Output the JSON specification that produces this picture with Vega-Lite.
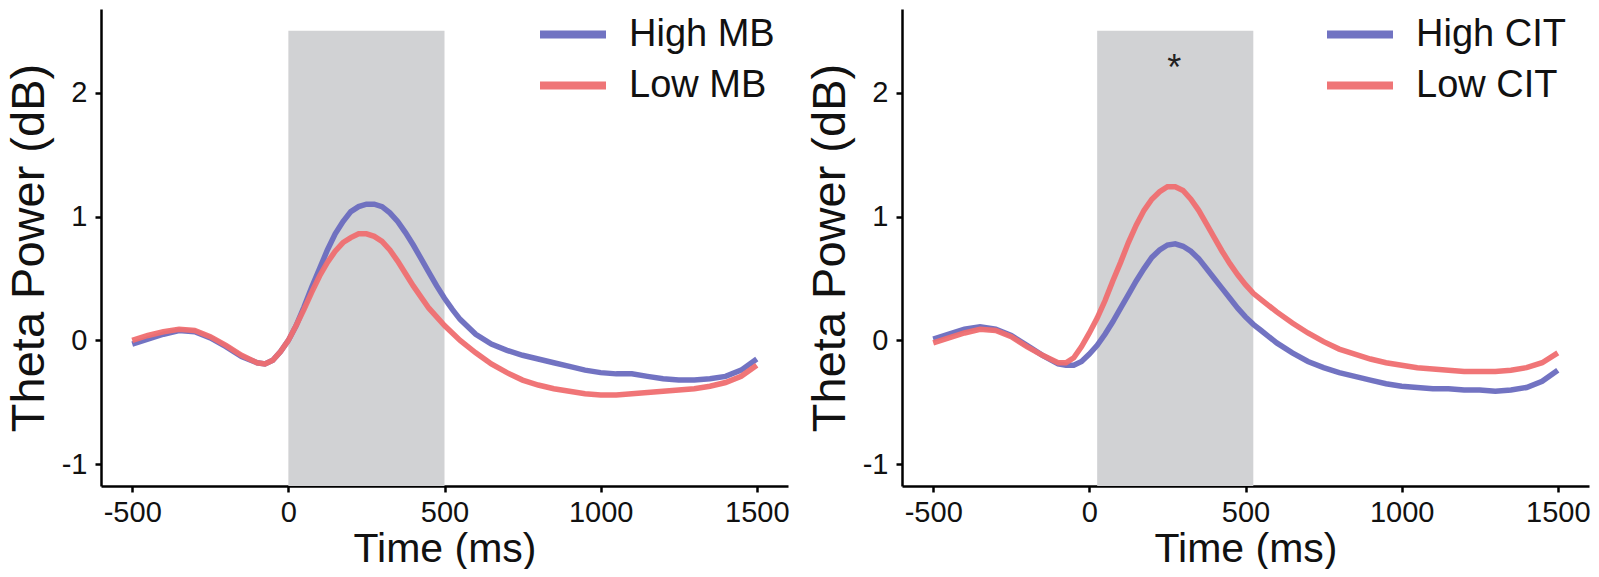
{
  "$schema": "https://vega.github.io/schema/vega-lite/v6.json",
  "background": "white",
  "padding": {"left": 5, "top": 9, "right": 5, "bottom": 0},
  "spacing": 16,
  "config": {
    "view": {"stroke": null},
    "axis": {"grid": false, "domainColor": "black", "domainWidth": 2.5, "tickColor": "black", "tickWidth": 2.5, "tickSize": 6, "labelFont": "Liberation Sans", "labelFontSize": 29, "labelColor": "#111", "labelPadding": 8, "titleFont": "Liberation Sans", "titleFontSize": 47, "titleFontWeight": "normal", "titleColor": "#111", "titlePadding": 8},
    "axisX": {"labelPadding": 6, "titlePadding": 2, "titleFontSize": 41},
    "legend": {"orient": "none", "legendY": 0, "title": null, "symbolType": "stroke", "symbolStrokeWidth": 8, "symbolSize": 4356, "labelFont": "Liberation Sans", "labelFontSize": 38, "labelColor": "#111", "labelOffset": 19, "rowPadding": -2, "clipHeight": 51}
  },
  "datasets": {
    "left": [
      {"t": -500, "v": -0.03, "g": "High MB"}, {"t": -450, "v": 0.01, "g": "High MB"}, {"t": -400, "v": 0.05, "g": "High MB"}, {"t": -350, "v": 0.08, "g": "High MB"}, {"t": -300, "v": 0.07, "g": "High MB"}, {"t": -250, "v": 0.02, "g": "High MB"}, {"t": -200, "v": -0.05, "g": "High MB"}, {"t": -150, "v": -0.13, "g": "High MB"}, {"t": -100, "v": -0.18, "g": "High MB"}, {"t": -75, "v": -0.19, "g": "High MB"}, {"t": -50, "v": -0.16, "g": "High MB"}, {"t": -25, "v": -0.09, "g": "High MB"}, {"t": 0, "v": 0.0, "g": "High MB"}, {"t": 25, "v": 0.12, "g": "High MB"}, {"t": 50, "v": 0.27, "g": "High MB"}, {"t": 75, "v": 0.43, "g": "High MB"}, {"t": 100, "v": 0.58, "g": "High MB"}, {"t": 125, "v": 0.73, "g": "High MB"}, {"t": 150, "v": 0.86, "g": "High MB"}, {"t": 175, "v": 0.96, "g": "High MB"}, {"t": 200, "v": 1.04, "g": "High MB"}, {"t": 225, "v": 1.08, "g": "High MB"}, {"t": 250, "v": 1.1, "g": "High MB"}, {"t": 275, "v": 1.1, "g": "High MB"}, {"t": 300, "v": 1.08, "g": "High MB"}, {"t": 325, "v": 1.03, "g": "High MB"}, {"t": 350, "v": 0.96, "g": "High MB"}, {"t": 375, "v": 0.87, "g": "High MB"}, {"t": 400, "v": 0.77, "g": "High MB"}, {"t": 425, "v": 0.66, "g": "High MB"}, {"t": 450, "v": 0.55, "g": "High MB"}, {"t": 475, "v": 0.44, "g": "High MB"}, {"t": 500, "v": 0.34, "g": "High MB"}, {"t": 525, "v": 0.25, "g": "High MB"}, {"t": 550, "v": 0.17, "g": "High MB"}, {"t": 600, "v": 0.05, "g": "High MB"}, {"t": 650, "v": -0.03, "g": "High MB"}, {"t": 700, "v": -0.08, "g": "High MB"}, {"t": 750, "v": -0.12, "g": "High MB"}, {"t": 800, "v": -0.15, "g": "High MB"}, {"t": 850, "v": -0.18, "g": "High MB"}, {"t": 900, "v": -0.21, "g": "High MB"}, {"t": 950, "v": -0.24, "g": "High MB"}, {"t": 1000, "v": -0.26, "g": "High MB"}, {"t": 1050, "v": -0.27, "g": "High MB"}, {"t": 1100, "v": -0.27, "g": "High MB"}, {"t": 1150, "v": -0.29, "g": "High MB"}, {"t": 1200, "v": -0.31, "g": "High MB"}, {"t": 1250, "v": -0.32, "g": "High MB"}, {"t": 1300, "v": -0.32, "g": "High MB"}, {"t": 1350, "v": -0.31, "g": "High MB"}, {"t": 1400, "v": -0.29, "g": "High MB"}, {"t": 1450, "v": -0.24, "g": "High MB"}, {"t": 1500, "v": -0.15, "g": "High MB"},
      {"t": -500, "v": 0.0, "g": "Low MB"}, {"t": -450, "v": 0.04, "g": "Low MB"}, {"t": -400, "v": 0.07, "g": "Low MB"}, {"t": -350, "v": 0.09, "g": "Low MB"}, {"t": -300, "v": 0.08, "g": "Low MB"}, {"t": -250, "v": 0.03, "g": "Low MB"}, {"t": -200, "v": -0.04, "g": "Low MB"}, {"t": -150, "v": -0.12, "g": "Low MB"}, {"t": -100, "v": -0.18, "g": "Low MB"}, {"t": -75, "v": -0.19, "g": "Low MB"}, {"t": -50, "v": -0.16, "g": "Low MB"}, {"t": -25, "v": -0.09, "g": "Low MB"}, {"t": 0, "v": 0.0, "g": "Low MB"}, {"t": 25, "v": 0.12, "g": "Low MB"}, {"t": 50, "v": 0.25, "g": "Low MB"}, {"t": 75, "v": 0.39, "g": "Low MB"}, {"t": 100, "v": 0.52, "g": "Low MB"}, {"t": 125, "v": 0.63, "g": "Low MB"}, {"t": 150, "v": 0.72, "g": "Low MB"}, {"t": 175, "v": 0.79, "g": "Low MB"}, {"t": 200, "v": 0.83, "g": "Low MB"}, {"t": 225, "v": 0.86, "g": "Low MB"}, {"t": 250, "v": 0.86, "g": "Low MB"}, {"t": 275, "v": 0.84, "g": "Low MB"}, {"t": 300, "v": 0.8, "g": "Low MB"}, {"t": 325, "v": 0.73, "g": "Low MB"}, {"t": 350, "v": 0.64, "g": "Low MB"}, {"t": 375, "v": 0.54, "g": "Low MB"}, {"t": 400, "v": 0.44, "g": "Low MB"}, {"t": 425, "v": 0.35, "g": "Low MB"}, {"t": 450, "v": 0.26, "g": "Low MB"}, {"t": 475, "v": 0.19, "g": "Low MB"}, {"t": 500, "v": 0.12, "g": "Low MB"}, {"t": 525, "v": 0.06, "g": "Low MB"}, {"t": 550, "v": 0.0, "g": "Low MB"}, {"t": 600, "v": -0.1, "g": "Low MB"}, {"t": 650, "v": -0.19, "g": "Low MB"}, {"t": 700, "v": -0.26, "g": "Low MB"}, {"t": 750, "v": -0.32, "g": "Low MB"}, {"t": 800, "v": -0.36, "g": "Low MB"}, {"t": 850, "v": -0.39, "g": "Low MB"}, {"t": 900, "v": -0.41, "g": "Low MB"}, {"t": 950, "v": -0.43, "g": "Low MB"}, {"t": 1000, "v": -0.44, "g": "Low MB"}, {"t": 1050, "v": -0.44, "g": "Low MB"}, {"t": 1100, "v": -0.43, "g": "Low MB"}, {"t": 1150, "v": -0.42, "g": "Low MB"}, {"t": 1200, "v": -0.41, "g": "Low MB"}, {"t": 1250, "v": -0.4, "g": "Low MB"}, {"t": 1300, "v": -0.39, "g": "Low MB"}, {"t": 1350, "v": -0.37, "g": "Low MB"}, {"t": 1400, "v": -0.34, "g": "Low MB"}, {"t": 1450, "v": -0.29, "g": "Low MB"}, {"t": 1500, "v": -0.2, "g": "Low MB"}
    ],
    "right": [
      {"t": -500, "v": 0.01, "g": "High CIT"}, {"t": -450, "v": 0.05, "g": "High CIT"}, {"t": -400, "v": 0.09, "g": "High CIT"}, {"t": -350, "v": 0.11, "g": "High CIT"}, {"t": -300, "v": 0.09, "g": "High CIT"}, {"t": -250, "v": 0.04, "g": "High CIT"}, {"t": -200, "v": -0.04, "g": "High CIT"}, {"t": -150, "v": -0.12, "g": "High CIT"}, {"t": -100, "v": -0.19, "g": "High CIT"}, {"t": -75, "v": -0.2, "g": "High CIT"}, {"t": -50, "v": -0.2, "g": "High CIT"}, {"t": -25, "v": -0.17, "g": "High CIT"}, {"t": 0, "v": -0.11, "g": "High CIT"}, {"t": 25, "v": -0.04, "g": "High CIT"}, {"t": 50, "v": 0.05, "g": "High CIT"}, {"t": 75, "v": 0.15, "g": "High CIT"}, {"t": 100, "v": 0.26, "g": "High CIT"}, {"t": 125, "v": 0.37, "g": "High CIT"}, {"t": 150, "v": 0.48, "g": "High CIT"}, {"t": 175, "v": 0.58, "g": "High CIT"}, {"t": 200, "v": 0.67, "g": "High CIT"}, {"t": 225, "v": 0.73, "g": "High CIT"}, {"t": 250, "v": 0.77, "g": "High CIT"}, {"t": 275, "v": 0.78, "g": "High CIT"}, {"t": 300, "v": 0.76, "g": "High CIT"}, {"t": 325, "v": 0.72, "g": "High CIT"}, {"t": 350, "v": 0.66, "g": "High CIT"}, {"t": 375, "v": 0.58, "g": "High CIT"}, {"t": 400, "v": 0.5, "g": "High CIT"}, {"t": 425, "v": 0.42, "g": "High CIT"}, {"t": 450, "v": 0.34, "g": "High CIT"}, {"t": 475, "v": 0.26, "g": "High CIT"}, {"t": 500, "v": 0.19, "g": "High CIT"}, {"t": 525, "v": 0.13, "g": "High CIT"}, {"t": 550, "v": 0.08, "g": "High CIT"}, {"t": 600, "v": -0.02, "g": "High CIT"}, {"t": 650, "v": -0.1, "g": "High CIT"}, {"t": 700, "v": -0.17, "g": "High CIT"}, {"t": 750, "v": -0.22, "g": "High CIT"}, {"t": 800, "v": -0.26, "g": "High CIT"}, {"t": 850, "v": -0.29, "g": "High CIT"}, {"t": 900, "v": -0.32, "g": "High CIT"}, {"t": 950, "v": -0.35, "g": "High CIT"}, {"t": 1000, "v": -0.37, "g": "High CIT"}, {"t": 1050, "v": -0.38, "g": "High CIT"}, {"t": 1100, "v": -0.39, "g": "High CIT"}, {"t": 1150, "v": -0.39, "g": "High CIT"}, {"t": 1200, "v": -0.4, "g": "High CIT"}, {"t": 1250, "v": -0.4, "g": "High CIT"}, {"t": 1300, "v": -0.41, "g": "High CIT"}, {"t": 1350, "v": -0.4, "g": "High CIT"}, {"t": 1400, "v": -0.38, "g": "High CIT"}, {"t": 1450, "v": -0.33, "g": "High CIT"}, {"t": 1500, "v": -0.24, "g": "High CIT"},
      {"t": -500, "v": -0.02, "g": "Low CIT"}, {"t": -450, "v": 0.02, "g": "Low CIT"}, {"t": -400, "v": 0.06, "g": "Low CIT"}, {"t": -350, "v": 0.09, "g": "Low CIT"}, {"t": -300, "v": 0.08, "g": "Low CIT"}, {"t": -250, "v": 0.03, "g": "Low CIT"}, {"t": -200, "v": -0.05, "g": "Low CIT"}, {"t": -150, "v": -0.12, "g": "Low CIT"}, {"t": -100, "v": -0.18, "g": "Low CIT"}, {"t": -75, "v": -0.18, "g": "Low CIT"}, {"t": -50, "v": -0.14, "g": "Low CIT"}, {"t": -25, "v": -0.05, "g": "Low CIT"}, {"t": 0, "v": 0.06, "g": "Low CIT"}, {"t": 25, "v": 0.18, "g": "Low CIT"}, {"t": 50, "v": 0.32, "g": "Low CIT"}, {"t": 75, "v": 0.48, "g": "Low CIT"}, {"t": 100, "v": 0.63, "g": "Low CIT"}, {"t": 125, "v": 0.79, "g": "Low CIT"}, {"t": 150, "v": 0.93, "g": "Low CIT"}, {"t": 175, "v": 1.05, "g": "Low CIT"}, {"t": 200, "v": 1.14, "g": "Low CIT"}, {"t": 225, "v": 1.2, "g": "Low CIT"}, {"t": 250, "v": 1.24, "g": "Low CIT"}, {"t": 275, "v": 1.24, "g": "Low CIT"}, {"t": 300, "v": 1.21, "g": "Low CIT"}, {"t": 325, "v": 1.14, "g": "Low CIT"}, {"t": 350, "v": 1.05, "g": "Low CIT"}, {"t": 375, "v": 0.94, "g": "Low CIT"}, {"t": 400, "v": 0.83, "g": "Low CIT"}, {"t": 425, "v": 0.72, "g": "Low CIT"}, {"t": 450, "v": 0.62, "g": "Low CIT"}, {"t": 475, "v": 0.53, "g": "Low CIT"}, {"t": 500, "v": 0.45, "g": "Low CIT"}, {"t": 525, "v": 0.38, "g": "Low CIT"}, {"t": 550, "v": 0.33, "g": "Low CIT"}, {"t": 600, "v": 0.23, "g": "Low CIT"}, {"t": 650, "v": 0.14, "g": "Low CIT"}, {"t": 700, "v": 0.06, "g": "Low CIT"}, {"t": 750, "v": -0.01, "g": "Low CIT"}, {"t": 800, "v": -0.07, "g": "Low CIT"}, {"t": 850, "v": -0.11, "g": "Low CIT"}, {"t": 900, "v": -0.15, "g": "Low CIT"}, {"t": 950, "v": -0.18, "g": "Low CIT"}, {"t": 1000, "v": -0.2, "g": "Low CIT"}, {"t": 1050, "v": -0.22, "g": "Low CIT"}, {"t": 1100, "v": -0.23, "g": "Low CIT"}, {"t": 1150, "v": -0.24, "g": "Low CIT"}, {"t": 1200, "v": -0.25, "g": "Low CIT"}, {"t": 1250, "v": -0.25, "g": "Low CIT"}, {"t": 1300, "v": -0.25, "g": "Low CIT"}, {"t": 1350, "v": -0.24, "g": "Low CIT"}, {"t": 1400, "v": -0.22, "g": "Low CIT"}, {"t": 1450, "v": -0.18, "g": "Low CIT"}, {"t": 1500, "v": -0.1, "g": "Low CIT"}
    ]
  },
  "hconcat": [
    {
      "width": 687, "height": 477,
      "layer": [
        {
          "data": {"values": [{"x0": 0, "x1": 500, "y0": -1.175, "y1": 2.5}]},
          "mark": {"type": "rect", "color": "#d1d2d4"},
          "encoding": {
            "x": {"field": "x0", "type": "quantitative", "title": "Time (ms)", "scale": {"domain": [-600, 1600], "nice": false, "zero": false}, "axis": {"values": [-500, 0, 500, 1000, 1500], "labelExpr": "'' + datum.value"}},
            "x2": {"field": "x1"},
            "y": {"field": "y0", "type": "quantitative", "title": "Theta Power (dB)", "scale": {"domain": [-1.175, 2.675], "nice": false, "zero": false}, "axis": {"values": [-1, 0, 1, 2], "labelExpr": "'' + datum.value"}},
            "y2": {"field": "y1"}
          }
        },
        {
          "data": {"name": "left"},
          "mark": {"type": "line", "strokeWidth": 5.5, "opacity": 0.95},
          "encoding": {
            "x": {"field": "t", "type": "quantitative", "title": "Time (ms)"},
            "y": {"field": "v", "type": "quantitative", "title": "Theta Power (dB)"},
            "color": {"field": "g", "type": "nominal", "scale": {"domain": ["High MB", "Low MB"], "range": ["#6a6cbf", "#ef6e70"]}, "legend": {"legendX": 435}}
          }
        }
      ]
    },
    {
      "width": 687, "height": 477,
      "layer": [
        {
          "data": {"values": [{"x0": 25, "x1": 525, "y0": -1.175, "y1": 2.5}]},
          "mark": {"type": "rect", "color": "#d1d2d4"},
          "encoding": {
            "x": {"field": "x0", "type": "quantitative", "title": "Time (ms)", "scale": {"domain": [-600, 1600], "nice": false, "zero": false}, "axis": {"values": [-500, 0, 500, 1000, 1500], "labelExpr": "'' + datum.value"}},
            "x2": {"field": "x1"},
            "y": {"field": "y0", "type": "quantitative", "title": "Theta Power (dB)", "scale": {"domain": [-1.175, 2.675], "nice": false, "zero": false}, "axis": {"values": [-1, 0, 1, 2], "labelExpr": "'' + datum.value"}},
            "y2": {"field": "y1"}
          }
        },
        {
          "data": {"name": "right"},
          "mark": {"type": "line", "strokeWidth": 5.5, "opacity": 0.95},
          "encoding": {
            "x": {"field": "t", "type": "quantitative", "title": "Time (ms)"},
            "y": {"field": "v", "type": "quantitative", "title": "Theta Power (dB)"},
            "color": {"field": "g", "type": "nominal", "scale": {"domain": ["High CIT", "Low CIT"], "range": ["#6a6cbf", "#ef6e70"]}, "legend": {"legendX": 421}}
          }
        },
        {
          "data": {"values": [{"t": 272, "v": 2.1, "label": "*"}]},
          "mark": {"type": "text", "fontSize": 36, "font": "Liberation Sans", "color": "#222", "baseline": "alphabetic", "align": "center"},
          "encoding": {
            "x": {"field": "t", "type": "quantitative", "title": "Time (ms)"},
            "y": {"field": "v", "type": "quantitative", "title": "Theta Power (dB)"},
            "text": {"field": "label"}
          }
        }
      ]
    }
  ],
  "resolve": {"scale": {"color": "independent"}}
}
